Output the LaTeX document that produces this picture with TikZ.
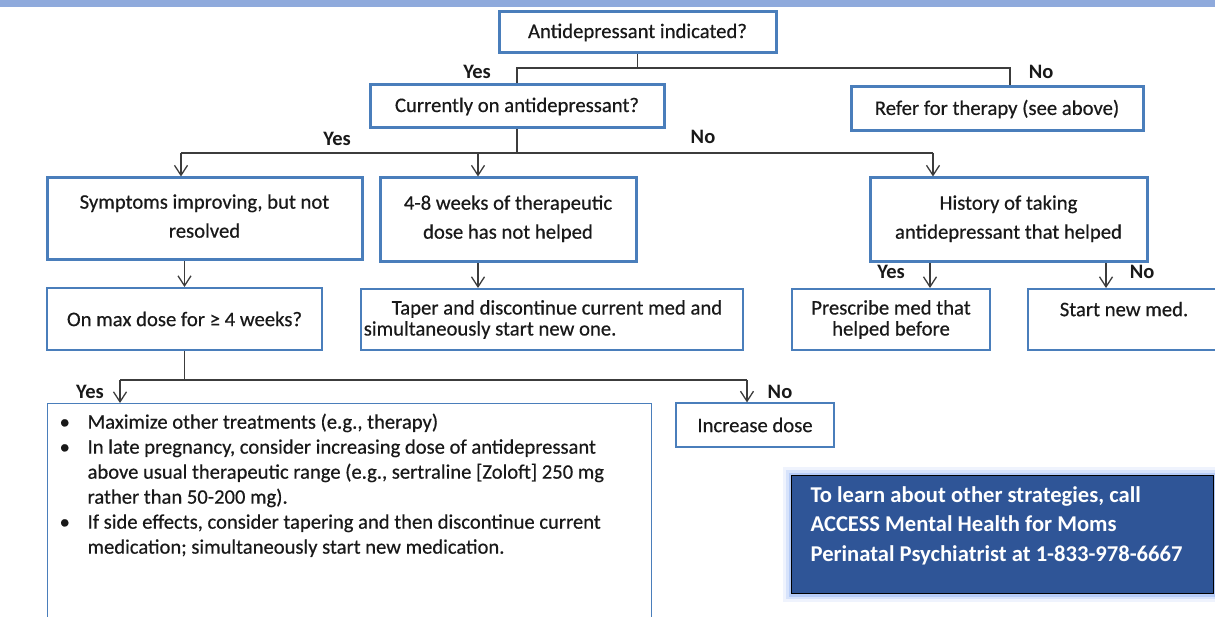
\documentclass[tikz,border=0pt]{standalone}
\usepackage{fontspec}
\setmainfont{Carlito}[UprightFeatures={FakeBold=0.5}]
\usetikzlibrary{arrows.meta,positioning,backgrounds}
\usepackage{xcolor}
\definecolor{boxblue}{RGB}{74,126,187}
\definecolor{barblue}{RGB}{143,170,220}
\definecolor{navy}{RGB}{47,85,151}
\definecolor{glow}{RGB}{120,160,240}
\definecolor{ink}{RGB}{25,25,25}
\newcommand{\bul}{\par\noindent\hangindent=28pt\hangafter=1\makebox[28pt][l]{\textbullet}}

\begin{document}
\begin{tikzpicture}[x=1pt,y=-1pt,
    font=\fontsize{20.7}{29}\selectfont, text=ink,
    box/.style={draw=boxblue, line width=3pt, align=center, inner sep=0pt},
    midbox/.style={box, line width=2pt, font=\fontsize{20.7}{21}\selectfont},
    thinbox/.style={box, line width=1.2pt},
    lbl/.style={font=\fontsize{20.5}{22}\selectfont\bfseries},
    line/.style={draw=ink!85, line width=1.3pt},
    arr/.style={line, -{Straight Barb[length=10pt,width=13pt]}}]
    % Page and top bar
    \useasboundingbox (0,0) rectangle (1215,617);
    \fill[barblue] (0,0) rectangle (1215,7);

    % First questions
    \node[box, minimum width=277, minimum height=41] (ind) at (637.5,32.5) {Antidepressant indicated?};
    \node[box, minimum width=294, minimum height=43] (cur) at (517,106.5) {Currently on antidepressant?};
    \node[box, minimum width=292, minimum height=44] (ref) at (997,109) {Refer for therapy (see above)};
    \coordinate (j1) at (637.5,68);
    \draw[line] (ind) -- (j1);
    \draw[line] (cur.north) |- (j1) -| ([xshift=13pt]ref.north);
    \node[lbl] (yes1) at (477,72) {Yes};
    \node[lbl] (no1) at (1041,72) {No};

    % Second level
    \node[box, minimum width=315, minimum height=82] (imp) at (204.5,219) {Symptoms improving, but not\\resolved\\[-23pt]};
    \node[box, minimum width=256, minimum height=84] (nohelp) at (508,220) {4-8 weeks of therapeutic\\dose has not helped\\[-23pt]};
    \node[box, minimum width=277, minimum height=84] (hist) at (1008.5,220) {History of taking\\antidepressant that helped\\[-23pt]};
    \coordinate (j2) at (517,153);
    \coordinate (t1) at (181,153);
    \coordinate (t2) at (478,153);
    \coordinate (t3) at (933,153);
    \draw[line] (cur) -- (j2);
    \draw[line] (t1) -- (t3);
    \foreach \t/\n in {t1/imp,t2/nohelp,t3/hist}
        \draw[arr] (\t) -- (\t |- \n.north);
    \node[lbl] (yes2) at (337,139) {Yes};
    \node[lbl] (no2) at (703,137) {No};

    % Third level
    \node[midbox, minimum width=275, minimum height=62] (maxd) at (184.5,319) {On max dose for ≥ 4 weeks?};
    \node[midbox, align=left, minimum width=382, minimum height=61] (taper) at (552,319.5)
        {\hspace*{28pt}Taper and discontinue current med and\hspace*{18pt}\\simultaneously start new one.};
    \node[midbox, minimum width=198, minimum height=61] (presc) at (891,319.5) {Prescribe med that\\helped before};
    \node[midbox, minimum width=192, minimum height=61] (newmed) at (1124,319.5) {Start new med.\\~};
    \coordinate (t4) at (930,0);
    \coordinate (t5) at (1106,0);
    \draw[arr] (imp.south -| maxd.north) -- (maxd.north);
    \draw[arr] (nohelp.south -| t2) -- (t2 |- taper.north);
    \draw[arr] (hist.south -| t4) -- (t4 |- presc.north);
    \draw[arr] (hist.south -| t5) -- (t5 |- newmed.north);
    \node[lbl] (yes3) at (891,272) {Yes};
    \node[lbl] (no3) at (1142,272) {No};

    % Bottom level
    \node[thinbox, anchor=north west, align=left] (opts) at (47,403) {\parbox[t][250pt][t]{604pt}{%
        \leftskip=12pt\fontsize{20.6}{25}\selectfont\vspace*{10pt}%
        \bul Maximize other treatments (e.g., therapy)
        \bul In late pregnancy, consider increasing dose of antidepressant\\above usual therapeutic range (e.g., sertraline [Zoloft] 250 mg\\rather than 50-200 mg).
        \bul If side effects, consider tapering and then discontinue current\\medication; simultaneously start new medication.\par}};
    \node[thinbox, minimum width=158, minimum height=44] (incr) at (755,425) {Increase dose};
    \coordinate (j3) at (184.5,380);
    \coordinate (t6) at (120,380);
    \coordinate (t7) at (747,380);
    \draw[line] (maxd) -- (j3);
    \draw[line] (t6) -- (t7);
    \draw[arr] (t6) -- (t6 |- opts.north);
    \draw[arr] (t7) -- (t7 |- incr.north);
    \node[lbl] (yes4) at (90,392) {Yes};
    \node[lbl] (no4) at (780,392) {No};

    % Contact box
    \node[anchor=north west, fill=navy, draw=black, line width=1.2pt, inner sep=0pt, text=white] (call) at (791,475)
        {\parbox[t][118pt][t]{422pt}{\leftskip=19pt\fontsize{22.6}{29.5}\selectfont\bfseries\vspace*{11pt}%
        \noindent To learn about other strategies, call\\ACCESS Mental Health for Moms\\Perinatal Psychiatrist at 1-833-978-6667\par}};
    \begin{scope}[on background layer]
        \foreach \w/\o in {16/0.12,10/0.2,5/0.35}
            \draw[glow, line width=\w pt, opacity=\o] (call.north west) rectangle (call.south east);
    \end{scope}
\end{tikzpicture}
\end{document}
